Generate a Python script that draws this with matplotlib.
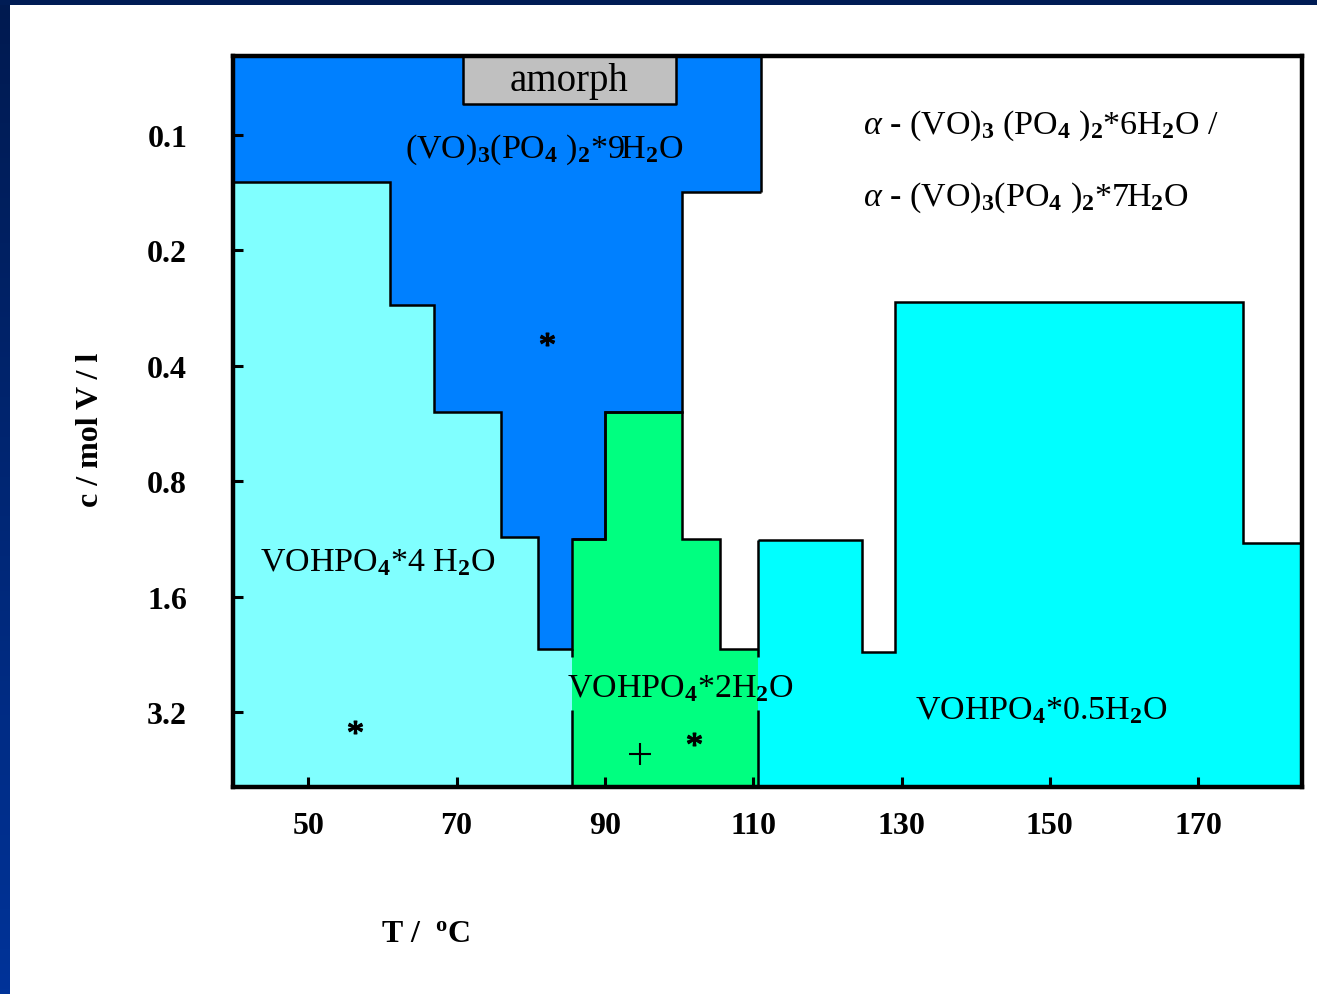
import numpy as np
import matplotlib.pyplot as plt
from matplotlib.ticker import NullLocator

plt.rcParams['font.family'] = ['Liberation Serif', 'DejaVu Serif']
plt.rcParams['mathtext.fontset'] = 'custom'
plt.rcParams['mathtext.rm'] = 'Liberation Serif'
plt.rcParams['mathtext.it'] = 'Liberation Serif:italic'
plt.rcParams['mathtext.bf'] = 'Liberation Serif:bold'

# axis range: temperature (deg C) and concentration (mol V / l)
t_min, t_max = 39.85, 184.0
c_min, c_max = 0.0623, 5.01

# VOHPO4*4H2O field: step edges and upper bound
hyd4_edges = [39.85, 61, 67, 76, 81, 85.6]
hyd4_top = [0.133, 0.277, 0.527, 1.117, 2.19]

# VOHPO4*2H2O field
hyd2_edges = [85.6, 90, 100.4, 105.5, 110.7]
hyd2_top = [1.13, 0.527, 1.13, 2.19]

# VOHPO4*0.5H2O field
hemi_edges = [110.7, 124.7, 129.1, 176.1, 184.0]
hemi_top = [1.137, 2.23, 0.2725, 1.157]

# (VO)3(PO4)2*9H2O field: lower bound
nona_edges = [39.85, 61, 67, 76, 81, 85.6, 90, 100.4, 111.1]
nona_bottom = [0.133, 0.277, 0.527, 1.117, 2.19, 1.13, 0.527, 0.1408]

# amorphous product box
amorph_t = [70.9, 99.6]
amorph_c = [0.0623, 0.083]

# synthesis points
star_t = [82.2, 56.3, 102.0]
star_c = [0.340, 3.49, 3.75]
plus_t = [94.7]
plus_c = [4.11]

# label gap in the vertical boundary lines
label_gap = (2.3, 3.15)

xticks = [50, 70, 90, 110, 130, 150, 170]
yticks = [0.1, 0.2, 0.4, 0.8, 1.6, 3.2]
ytick_labels = ['0.1', '0.2', '0.4', '0.8', '1.6', '3.2']

fig = plt.figure(figsize=(13.17, 9.95), dpi=100)
fig.patch.set_facecolor('white')

# slide frame on the left and top
left = fig.add_axes([0, 0, 10 / 1317, 1])
left.imshow(np.linspace(0, 1, 200).reshape(-1, 1), aspect='auto',
            cmap=plt.matplotlib.colors.LinearSegmentedColormap.from_list(
                'fr', ['#001a50', '#003399']))
left.axis('off')
top = fig.add_axes([0, 1 - 6 / 995, 1, 6 / 995])
top.set_facecolor('#001c55')
top.set_xticks([])
top.set_yticks([])
for s in top.spines.values():
    s.set_visible(False)

ax = fig.add_axes([0.1769, 0.208, 0.8117, 0.7347])
ax.set_yscale('log', base=2)

ax.stairs(nona_bottom, nona_edges, baseline=c_min, fill=True, color='#0080ff', lw=0)
ax.stairs(hyd4_top, hyd4_edges, baseline=c_max, fill=True, color='#80ffff', lw=0)
ax.stairs(hyd2_top, hyd2_edges, baseline=c_max, fill=True, color='#00ff80', lw=0)
ax.stairs(hemi_top, hemi_edges, baseline=c_max, fill=True, color='#00ffff', lw=0)

lw = 1.8
ax.stairs(nona_bottom, nona_edges, baseline=None, color='k', lw=lw)
ax.vlines(nona_edges[-1], c_min, nona_bottom[-1], color='k', lw=lw)
ax.stairs(hyd2_top, hyd2_edges, baseline=None, color='k', lw=lw)
ax.stairs(hemi_top, hemi_edges, baseline=None, color='k', lw=lw)
for t0, c0 in [(hyd4_edges[-1], hyd4_top[-1]), (hemi_edges[0], hemi_top[0])]:
    ax.vlines(t0, c0, label_gap[0], color='k', lw=lw)
    ax.vlines(t0, label_gap[1], c_max, color='k', lw=lw)

ax.fill_between(amorph_t, amorph_c[0], amorph_c[1], facecolor='#c0c0c0',
                edgecolor='k', lw=lw)

ax.plot(star_t, star_c, ls='none', marker=r'$*$', ms=10, color='k')
ax.plot(plus_t, plus_c, ls='none', marker='+', ms=16, mew=1.5, color='k')

ax.set_xlim(t_min, t_max)
ax.set_ylim(c_max, c_min)
ax.set_xticks(xticks)
ax.set_yticks(yticks)
ax.set_yticklabels(ytick_labels)
ax.yaxis.set_minor_locator(NullLocator())
ax.tick_params(direction='in', length=7, width=2.2, top=False, right=False)
ax.tick_params(axis='x', pad=17, labelsize=23)
ax.tick_params(axis='y', pad=33, labelsize=23)
for lab in ax.get_xticklabels() + ax.get_yticklabels():
    lab.set_fontweight('bold')
for s in ax.spines.values():
    s.set_linewidth(3.2)

fs = 24.5
ax.text(0.314, 0.966, 'amorph', transform=ax.transAxes, ha='center', va='center', fontsize=28)
ax.text(0.2914, 0.862, r'(VO)$_\mathbf{3}$(PO$_\mathbf{4}$ )$_\mathbf{2}$*9H$_\mathbf{2}$O',
        transform=ax.transAxes, ha='center', va='baseline', fontsize=fs)
ax.text(0.589, 0.8947,
        r'$\alpha$ - (VO)$_\mathbf{3}$ (PO$_\mathbf{4}$ )$_\mathbf{2}$*6H$_\mathbf{2}$O /',
        transform=ax.transAxes, ha='left', va='baseline', fontsize=fs)
ax.text(0.589, 0.796,
        r'$\alpha$ - (VO)$_\mathbf{3}$(PO$_\mathbf{4}$ )$_\mathbf{2}$*7H$_\mathbf{2}$O',
        transform=ax.transAxes, ha='left', va='baseline', fontsize=fs)
ax.text(0.0253, 0.297, r'VOHPO$_\mathbf{4}$*4 H$_\mathbf{2}$O', transform=ax.transAxes,
        ha='left', va='baseline', fontsize=fs)
ax.text(0.3124, 0.1245, r'VOHPO$_\mathbf{4}$*2H$_\mathbf{2}$O', transform=ax.transAxes,
        ha='left', va='baseline', fontsize=fs)
ax.text(0.638, 0.0944, r'VOHPO$_\mathbf{4}$*0.5H$_\mathbf{2}$O', transform=ax.transAxes,
        ha='left', va='baseline', fontsize=fs)

fig.text(90 / 1317, 1 - 430 / 995, 'c / mol V / l', rotation=90, ha='center', va='center',
         fontsize=23, fontweight='bold')
fig.text(381 / 1317, 1 - 942 / 995, r'T /  $^{\mathbf{o}}$C', ha='left', va='baseline',
         fontsize=23, fontweight='bold')

fig.savefig('out.png', dpi=100)
